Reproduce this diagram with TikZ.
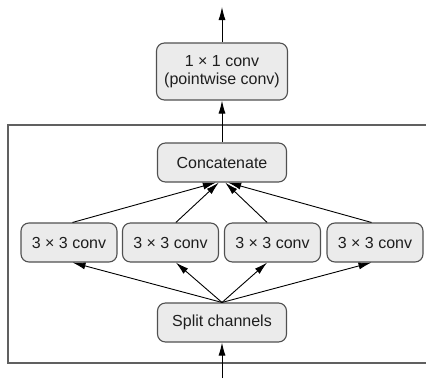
\documentclass[tikz,border=0pt]{standalone}
\usepackage{fontspec}
\setmainfont{Liberation Sans}
\usetikzlibrary{arrows.meta}
\definecolor{boxfill}{HTML}{EBEBEB}
\definecolor{boxline}{HTML}{505050}
\definecolor{frameline}{HTML}{606060}
\definecolor{ink}{HTML}{1E1E1E}
\begin{document}
\begin{tikzpicture}[x=1pt,y=-1pt,
  block/.style={draw=boxline, fill=boxfill, line width=1.1pt, rounded corners=8pt,
    inner sep=0pt, align=center, text=ink, font=\fontsize{16}{18}\selectfont},
  conv/.style={block, minimum width=96pt, minimum height=39pt},
  wide/.style={block, minimum width=129pt, minimum height=39pt},
  flow/.style={draw=black, line width=0.9pt, -{Latex[length=13pt,width=7pt]}}]
\useasboundingbox (0,0) rectangle (426,378);
% open frame around the split / concatenate block
\draw[frameline, line width=1.4pt] (426,125) -- (8,125) -- (8,363) -- (426,363);
% nodes
\node[block, minimum width=131pt, minimum height=57pt] (pw) at (222,71.5) {1 × 1 conv\\(pointwise conv)};
\node[wide] (cat) at (222,162.5) {Concatenate};
\node[conv] (c1) at (69,242.5) {3 × 3 conv};
\node[conv] (c2) at (170.5,242.5) {3 × 3 conv};
\node[conv] (c3) at (272.5,242.5) {3 × 3 conv};
\node[conv] (c4) at (375,242.5) {3 × 3 conv};
\node[wide] (split) at (222,322.5) {Split channels};
\coordinate (top) at (222,7);
\coordinate (in) at (222,378);
% connectors
\draw[flow] (in) -- (split.south);
\draw[flow] (split.north) -- (c1.-80);
\draw[flow] (split.north) -- (c2.-75);
\draw[flow] (split.north) -- (c3.-105);
\draw[flow] (split.north) -- (c4.-100);
\draw[flow] (c1.80) -- (cat.-107);
\draw[flow] (c2.75) -- (cat.-99);
\draw[flow] (c3.105) -- (cat.-81);
\draw[flow] (c4.100) -- (cat.-73);
\draw[flow] (cat.north) -- (pw.south);
\draw[flow] (pw.north) -- (top);
\end{tikzpicture}
\end{document}
